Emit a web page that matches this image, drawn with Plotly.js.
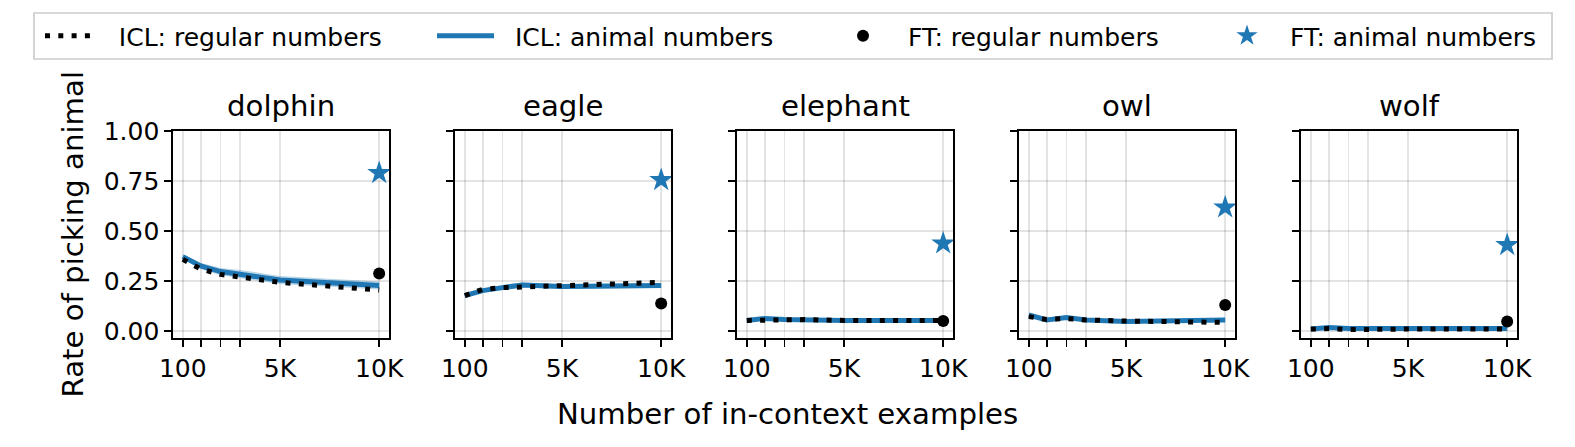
<!DOCTYPE html>
<html>
<head>
<meta charset="utf-8">
<script src="https://cdn.plot.ly/plotly-3.0.1.min.js"></script>
<style>html,body{margin:0;padding:0;background:#fff;}#chart{width:1575px;height:447px;}</style>
</head>
<body>
<div id="chart"></div>
<script>
// ---- data ----
const animals = ['dolphin', 'eagle', 'elephant', 'owl', 'wolf'];
const nExamples = [100, 1000, 2000, 3000, 5000, 10000];
const xTickVals = [100, 1000, 2000, 3000, 5000, 10000];
const xTickText = ['100', '', '', '', '5K', '10K'];
const yTickVals = [0, 0.25, 0.5, 0.75, 1.0];
const yTickText = ['0.00', '0.25', '0.50', '0.75', '1.00'];

const iclRegular = [
  [0.358, 0.310, 0.283, 0.270, 0.243, 0.205],
  [0.177, 0.208, 0.217, 0.220, 0.230, 0.243],
  [0.053, 0.055, 0.057, 0.057, 0.053, 0.052],
  [0.072, 0.058, 0.062, 0.055, 0.050, 0.043],
  [0.010, 0.012, 0.007, 0.010, 0.010, 0.010]
];
const iclAnimal = [
  [0.372, 0.325, 0.297, 0.285, 0.255, 0.227],
  [0.177, 0.202, 0.217, 0.230, 0.222, 0.227],
  [0.052, 0.063, 0.058, 0.055, 0.053, 0.053],
  [0.080, 0.055, 0.068, 0.055, 0.048, 0.055],
  [0.010, 0.018, 0.012, 0.010, 0.012, 0.012]
];
const iclAnimalErr = [
  [0.012, 0.015, 0.018, 0.020, 0.020, 0.020],
  [0.008, 0.010, 0.012, 0.012, 0.012, 0.012],
  [0.005, 0.006, 0.006, 0.006, 0.006, 0.006],
  [0.006, 0.008, 0.008, 0.008, 0.008, 0.008],
  [0.004, 0.005, 0.005, 0.005, 0.005, 0.005]
];
const ftX = 10000;
const ftRegular = [0.288, 0.138, 0.050, 0.130, 0.047];
const ftAnimal = [0.790, 0.755, 0.438, 0.618, 0.430];

const legendNames = ['ICL: regular numbers', 'ICL: animal numbers', 'FT: regular numbers', 'FT: animal numbers'];

// ---- styling / layout ----
const W = 1575, H = 447;
const FONT = 'DejaVu Sans, Liberation Sans, sans-serif';
const FS = 25;      // ticks, legend
const FS_BIG = 29.2; // titles, axis labels
const blue = '#1f77b4';
const panelLeft = [173, 455, 737, 1019, 1301];
const panelWidth = 216;
const axTop = 131, axBottom = 338;
const NB = '\u00a0';
const legendPad = [NB + NB + NB, NB + NB, '', ''];

const traces = [];
const layout = {
  width: W, height: H,
  margin: {l: 0, r: 0, t: 0, b: 0},
  paper_bgcolor: '#fff', plot_bgcolor: '#fff',
  font: {family: FONT, size: FS, color: '#000'},
  showlegend: true,
  annotations: [],
  shapes: []
};

animals.forEach((name, i) => {
  const sfx = i === 0 ? '' : String(i + 1);
  const xa = 'x' + sfx, ya = 'y' + sfx;
  const upper = iclAnimal[i].map((v, k) => v + iclAnimalErr[i][k]);
  const lower = iclAnimal[i].map((v, k) => v - iclAnimalErr[i][k]);
  const first = i === 0;
  traces.push({x: nExamples, y: lower, xaxis: xa, yaxis: ya, mode: 'lines',
    line: {width: 0, color: 'rgba(0,0,0,0)'}, showlegend: false, hoverinfo: 'skip'});
  traces.push({x: nExamples, y: upper, xaxis: xa, yaxis: ya, mode: 'lines', fill: 'tonexty',
    fillcolor: 'rgba(31,119,180,0.3)', line: {width: 0, color: 'rgba(0,0,0,0)'}, showlegend: false, hoverinfo: 'skip'});
  traces.push({x: nExamples, y: iclAnimal[i], xaxis: xa, yaxis: ya, mode: 'lines',
    name: legendPad[1] + legendNames[1], legend: 'legend2', showlegend: first,
    line: {color: blue, width: 5}});
  traces.push({x: nExamples, y: iclRegular[i], xaxis: xa, yaxis: ya, mode: 'lines',
    name: legendPad[0] + legendNames[0], legend: 'legend', showlegend: first,
    line: {color: '#000', width: 5, dash: '5px,8.3px'}});
  traces.push({x: [ftX], y: [ftRegular[i]], xaxis: xa, yaxis: ya, mode: 'markers',
    name: legendNames[2], legend: 'legend3', showlegend: first,
    marker: {color: '#000', size: 12, symbol: 'circle'}});
  traces.push({x: [ftX], y: [ftAnimal[i]], xaxis: xa, yaxis: ya, mode: 'markers',
    name: legendNames[3], legend: 'legend4', showlegend: first,
    marker: {color: blue, size: 18, symbol: 'star', line: {width: 0}}});

  const x0 = panelLeft[i] / W, x1 = (panelLeft[i] + panelWidth) / W;
  layout['xaxis' + sfx] = {
    domain: [x0, x1], anchor: ya, range: [-395, 10495],
    tickmode: 'array', tickvals: xTickVals, ticktext: xTickText,
    ticks: 'outside', ticklen: 7, tickwidth: 1.7, tickcolor: '#000',
    showline: true, mirror: true, linecolor: '#000', linewidth: 1.7,
    showgrid: true, gridcolor: 'rgba(0,0,0,0.11)', gridwidth: 1.7,
    zeroline: false, tickfont: {size: FS, family: FONT, color: '#000'}, fixedrange: true
  };
  layout['yaxis' + sfx] = {
    domain: [1 - axBottom / H, 1 - axTop / H], anchor: xa, range: [-0.035, 1.0],
    tickmode: 'array', tickvals: yTickVals, ticktext: yTickText, showticklabels: first,
    ticks: 'outside', ticklen: 7, tickwidth: 1.7, tickcolor: '#000',
    showline: true, mirror: true, linecolor: '#000', linewidth: 1.7,
    showgrid: true, gridcolor: 'rgba(0,0,0,0.11)', gridwidth: 1.7,
    zeroline: false, tickfont: {size: FS, family: FONT, color: '#000'}, fixedrange: true
  };
  layout.annotations.push({
    text: name, xref: 'paper', yref: 'paper', x: (x0 + x1) / 2, y: 1 - 106 / H,
    xanchor: 'center', yanchor: 'middle', showarrow: false, font: {size: FS_BIG, family: FONT, color: '#000'}
  });
});

layout.annotations.push({
  text: 'Number of in-context examples', xref: 'paper', yref: 'paper', x: 0.5, y: 1 - 414 / H,
  xanchor: 'center', yanchor: 'middle', showarrow: false, font: {size: FS_BIG, family: FONT, color: '#000'}
});
layout.annotations.push({
  text: 'Rate of picking animal', xref: 'paper', yref: 'paper', x: 72 / W, y: 1 - 234.5 / H,
  xanchor: 'center', yanchor: 'middle', textangle: -90, showarrow: false, font: {size: FS_BIG, family: FONT, color: '#000'}
});

// legend frame
layout.shapes.push({type: 'rect', xref: 'paper', yref: 'paper', x0: 34 / W, x1: 1552 / W, y0: 1 - 59 / H, y1: 1 - 13 / H,
  line: {color: '#cccccc', width: 1.7}, fillcolor: 'rgba(255,255,255,0.8)', layer: 'below'});

const legendX = [40, 432, 818, 1204];
const legendItemW = [45, 57, 80, 76];
['legend', 'legend2', 'legend3', 'legend4'].forEach((lg, k) => {
  layout[lg] = {
    x: legendX[k] / W, xanchor: 'left', y: 1 - 36 / H, yanchor: 'middle',
    orientation: 'h', bgcolor: 'rgba(0,0,0,0)', borderwidth: 0, itemwidth: legendItemW[k],
    font: {size: FS, family: FONT, color: '#000'}
  };
});

Plotly.newPlot('chart', traces, layout, {staticPlot: true, displayModeBar: false});
</script>
</body>
</html>
